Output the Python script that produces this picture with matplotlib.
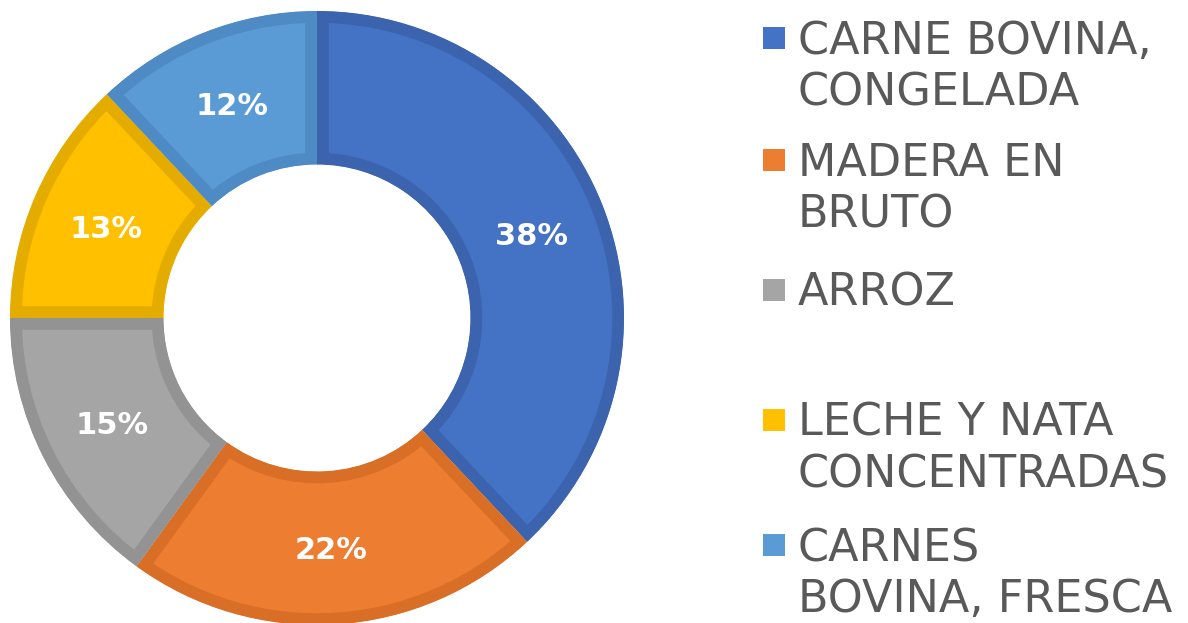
import matplotlib
matplotlib.use("Agg")
import matplotlib.pyplot as plt
from matplotlib.patches import Rectangle

W, H = 1188, 623

labels = [["CARNE BOVINA,", "CONGELADA"],
          ["MADERA EN", "BRUTO"],
          ["ARROZ", ""],
          ["LECHE Y NATA", "CONCENTRADAS"],
          ["CARNES", "BOVINA, FRESCA"]]
shares = [38, 22, 15, 13, 12]
colors = ["#4472C4", "#ED7D31", "#A5A5A5", "#FFC000", "#5B9BD5"]
edges = ["#3C64AE", "#D96F26", "#939393", "#E5AC00", "#4E8AC4"]


def fx(px):
    return px / W


def fy(py):
    return 1 - py / H


fig = plt.figure(figsize=(W / 100, H / 100), dpi=100)

# donut, centre at (317, 318) px, outer radius 307 px
cx, cy, r = 317, 318, 307
ax = fig.add_axes([fx(cx - r), fy(cy + r), 2 * r / W, 2 * r / H])
wedges, texts, autotexts = ax.pie(
    shares, colors=colors, startangle=90, counterclock=False,
    autopct="%1.0f%%", pctdistance=0.75, radius=1,
    wedgeprops=dict(width=0.5, linewidth=17),
    textprops=dict(color="white", fontsize=22, fontweight="bold"))
ax.set_xlim(-1, 1)
ax.set_ylim(-1, 1)
ax.set_aspect("equal")
ax.axis("off")
# pie turns clipping off; turn it back on so each border stays inside its wedge
for w, ec in zip(wedges, edges):
    w.set_edgecolor(ec)
    w.set_clip_on(True)
    w.set_clip_path(w)
for t in autotexts:
    t.set_va("center_baseline")

# legend drawn by hand: marker beside the first line of each label
first_line = [38, 160, 290, 420, 545]
line_gap = 51
cap = 32
for lab, col, y0 in zip(labels, colors, first_line):
    fig.patches.append(Rectangle((fx(763), fy(y0 + 11)), 22 / W, 22 / H,
                                 facecolor=col, edgecolor="none",
                                 transform=fig.transFigure, figure=fig))
    for i, line in enumerate(lab):
        if line:
            fig.text(fx(798), fy(y0 + i * line_gap + cap / 2), line,
                     fontsize=32, color="#595959", va="baseline", ha="left")

fig.savefig("out.png", dpi=100, facecolor="white")
